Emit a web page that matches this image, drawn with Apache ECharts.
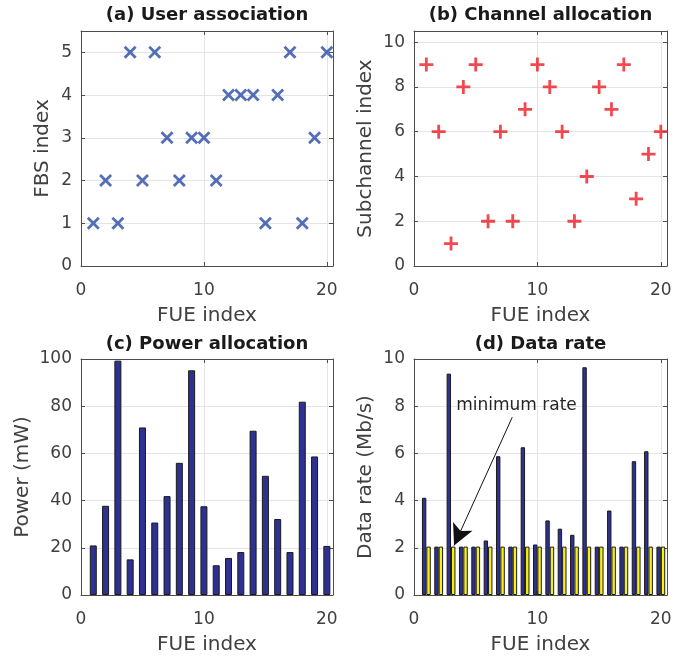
<!DOCTYPE html>
<html><head><meta charset="utf-8">
<script src="https://cdn.jsdelivr.net/npm/echarts@6/dist/echarts.min.js"></script>
<style>html,body{margin:0;padding:0;background:#fff}#c{width:692px;height:658px}</style>
</head><body><div id="c"></div>
<script>
// ---- data ----
const fueIndex = [1,2,3,4,5,6,7,8,9,10,11,12,13,14,15,16,17,18,19,20];
const fbsIndex = [1,2,1,5,2,5,3,2,3,3,2,4,4,4,1,4,5,1,3,5];
const subchannelIndex = [9,6,1,8,9,2,6,2,7,9,8,6,2,4,8,7,9,3,5,6];
const powerMw = [21,37.8,99.3,15.1,71,30.7,41.9,56,95.2,37.6,12.6,15.7,18.2,69.6,50.5,32.2,18.2,81.9,58.7,20.8];
const dataRate = [4.12,2.05,9.38,2.05,2.05,2.31,5.88,2.05,6.26,2.14,3.16,2.81,2.55,9.65,2.05,3.58,2.05,5.67,6.09,2.05];
const minRate = [2.05,2.05,2.05,2.05,2.05,2.05,2.05,2.05,2.05,2.05,2.05,2.05,2.05,2.05,2.05,2.05,2.05,2.05,2.05,2.05];
const titles = ['(a) User association','(b) Channel allocation','(c) Power allocation','(d) Data rate'];
const xName = 'FUE index';
const yNames = ['FBS index','Subchannel index','Power (mW)','Data rate (Mb/s)'];
const yRanges = [[0,5.5,1],[0,10.5,2],[0,100,20],[0,10,2]];
const xRange = [0,20.5,10];
const annotationText = 'minimum rate';
const arrowFrom = [7.78,7.53];
const arrowTo = [3.07,2.1];
const textAt = [3.2,8.04];

// ---- style ----
const FONT = 'DejaVu Sans';
const AX = '#4d4d4d';
const TXT = '#404040';
const GRIDC = '#e4e4e4';
const grids = [
  {left:81, right:359, top:31, bottom:392},
  {left:414, right:25, top:31, bottom:392},
  {left:81, right:359, top:359, bottom:63},
  {left:414, right:25, top:359, bottom:63}
];
const yNameGaps = [28,38,48,38];
const titleTops = [6,6,335,335];

function pairs(xs, ys){ return xs.map((x,i)=>[x, ys[i]]); }
function isTick(v, step){ return Math.abs(v/step - Math.round(v/step)) < 1e-9; }

const xAxis = [], yAxis = [];
grids.forEach((g,i)=>{
  xAxis.push({
    type:'value', gridIndex:i, min:xRange[0], max:xRange[1], interval:xRange[2],
    name:xName, nameLocation:'middle', nameGap:40,
    nameTextStyle:{fontFamily:FONT, fontSize:20, color:TXT},
    axisLine:{show:true, onZero:false, lineStyle:{color:AX}},
    axisTick:{show:true, inside:true, length:4, lineStyle:{color:AX}},
    axisLabel:{fontFamily:FONT, fontSize:17, color:TXT, margin:16,
      formatter:v=> isTick(v,xRange[2]) ? String(v) : ''},
    splitLine:{show:true, lineStyle:{color:GRIDC}}
  });
  const yr = yRanges[i];
  yAxis.push({
    type:'value', gridIndex:i, min:yr[0], max:yr[1], interval:yr[2],
    name:yNames[i], nameLocation:'middle', nameGap:yNameGaps[i],
    nameTextStyle:{fontFamily:FONT, fontSize:20, color:TXT},
    axisLine:{show:true, onZero:false, lineStyle:{color:AX}},
    axisTick:{show:true, inside:true, length:4, lineStyle:{color:AX}},
    axisLabel:{fontFamily:FONT, fontSize:17, color:TXT, margin:9,
      formatter:v=> isTick(v,yr[2]) ? String(v) : ''},
    splitLine:{show:true, lineStyle:{color:GRIDC}}
  });
});
grids.forEach((g,i)=>{
  xAxis.push({
    type:'value', gridIndex:i, position:'top', min:xRange[0], max:xRange[1], interval:xRange[2],
    axisLine:{show:true, onZero:false, lineStyle:{color:AX}},
    axisTick:{show:true, inside:true, length:4, lineStyle:{color:AX}},
    axisLabel:{show:false}, splitLine:{show:false}
  });
  const yr = yRanges[i];
  yAxis.push({
    type:'value', gridIndex:i, position:'right', min:yr[0], max:yr[1], interval:yr[2],
    axisLine:{show:true, onZero:false, lineStyle:{color:AX}},
    axisTick:{show:true, inside:true, length:4, lineStyle:{color:AX}},
    axisLabel:{show:false}, splitLine:{show:false}
  });
});

const title = titles.map((t,i)=>{
  const g = grids[i];
  const cx = g.left + (692 - g.left - g.right)/2;
  return {text:t, left:cx, top:titleTops[i], textAlign:'center', padding:0,
    textStyle:{fontFamily:FONT, fontSize:18, fontWeight:'bold', color:'#1a1a1a'}};
});

const series = [
  {type:'scatter', xAxisIndex:0, yAxisIndex:0, data:pairs(fueIndex, fbsIndex),
   symbol:'path://M0,0L10,10M10,0L0,10', symbolSize:11,
   itemStyle:{color:'rgba(0,0,0,0)', borderColor:'#2a4aa6', borderWidth:2.8}},
  {type:'scatter', xAxisIndex:1, yAxisIndex:1, data:pairs(fueIndex, subchannelIndex),
   symbol:'path://M5,0L5,10M0,5L10,5', symbolSize:14,
   itemStyle:{color:'rgba(0,0,0,0)', borderColor:'#ec1c24', borderWidth:2.8}},
  {type:'bar', xAxisIndex:2, yAxisIndex:2, data:pairs(fueIndex, powerMw), barWidth:7,
   itemStyle:{color:'#2e3192', borderColor:'#1a1a1a', borderWidth:1}},
  {type:'bar', xAxisIndex:3, yAxisIndex:3, data:pairs(fueIndex, dataRate), barWidth:4.4, barGap:'0%',
   itemStyle:{color:'#2e3192', borderColor:'#1a1a1a', borderWidth:1}},
  {type:'bar', xAxisIndex:3, yAxisIndex:3, data:pairs(fueIndex, minRate), barWidth:4.4, barGap:'0%',
   itemStyle:{color:'#f7ef1a', borderColor:'#1a1a1a', borderWidth:1},
   markLine:{silent:true, symbol:['none','arrow'], symbolSize:[16,21],
     lineStyle:{color:'#111', width:1, type:'solid'}, label:{show:false},
     data:[[{coord:arrowFrom},{coord:arrowTo}]]},
   markPoint:{silent:true, symbol:'rect', symbolSize:1, itemStyle:{color:'rgba(0,0,0,0)'},
     label:{show:true, position:'right', distance:0, formatter:annotationText,
       fontFamily:FONT, fontSize:17, color:'#262626'},
     data:[{coord:textAt}]}
  }
];

const chart = echarts.init(document.getElementById('c'), null, {renderer:'canvas'});
chart.setOption({
  animation:false, backgroundColor:'#fff',
  title,
  grid: grids.map(g=>Object.assign({show:false, containLabel:false}, g)),
  xAxis, yAxis, series
});
</script></body></html>
